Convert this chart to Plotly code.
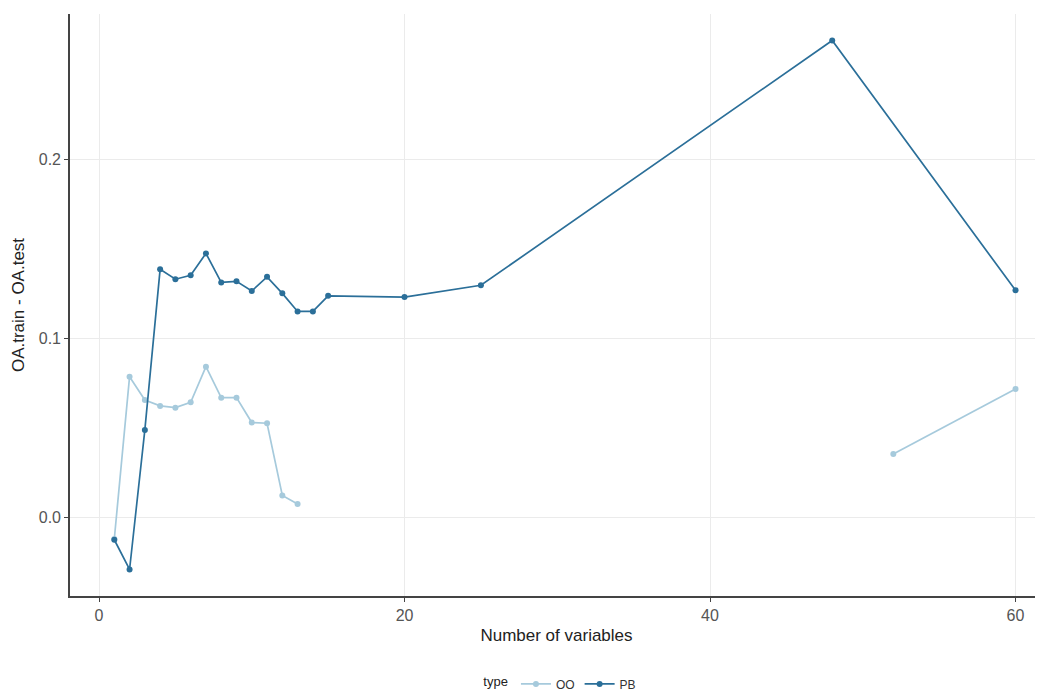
import plotly.graph_objects as go

# Data
pb_x = [1, 2, 3, 4, 5, 6, 7, 8, 9, 10, 11, 12, 13, 14, 15, 20, 25, 48, 60]
pb_y = [-0.0124, -0.029, 0.0489, 0.1385, 0.1330, 0.1352, 0.1474, 0.1312, 0.1318,
        0.1264, 0.1343, 0.1251, 0.1150, 0.1150, 0.1237, 0.1230, 0.1296, 0.2662, 0.1268]

oo_x = [1, 2, 3, 4, 5, 6, 7, 8, 9, 10, 11, 12, 13, None, 52, 60]
oo_y = [-0.0120, 0.0786, 0.0656, 0.0623, 0.0613, 0.0643, 0.0842, 0.0669, 0.0669,
        0.0530, 0.0526, 0.0123, 0.0075, None, 0.0355, 0.0717]

x_ticks = [0, 20, 40, 60]
y_ticks = [0.0, 0.1, 0.2]
y_tick_labels = ["0.0", "0.1", "0.2"]

OO_COLOR = "#a6cadc"
PB_COLOR = "#2b6f99"

fig = go.Figure()
fig.add_trace(go.Scatter(x=oo_x, y=oo_y, mode="lines+markers", name="OO",
                         line=dict(color=OO_COLOR, width=1.7),
                         marker=dict(color=OO_COLOR, size=6), connectgaps=False))
fig.add_trace(go.Scatter(x=pb_x, y=pb_y, mode="lines+markers", name="PB",
                         line=dict(color=PB_COLOR, width=1.7),
                         marker=dict(color=PB_COLOR, size=6)))

fig.update_layout(
    width=1035, height=693,
    margin=dict(l=62, r=0, t=6, b=105, autoexpand=False),
    paper_bgcolor="white", plot_bgcolor="white",
    font=dict(family="Liberation Sans, Arial, sans-serif", color="#222"),
    showlegend=True,
    legend=dict(orientation="h", x=0.505, xanchor="center", y=-0.151, yanchor="middle",
                title=dict(text="type", font=dict(size=13, color="#222")),
                font=dict(size=12, color="#333"), itemwidth=30),
)
fig.update_xaxes(range=[-1.9, 61.8], tickvals=x_ticks, ticktext=[str(v) for v in x_ticks],
                 showgrid=True, gridcolor="#ebebeb", gridwidth=1, zeroline=False,
                 showline=True, linecolor="#444", linewidth=1.6,
                 ticks="outside", ticklen=4, tickcolor="#444",
                 tickfont=dict(size=16, color="#555"),
                 title=dict(text="Number of variables", font=dict(size=17, color="#222"), standoff=6))
fig.update_yaxes(range=[-0.0438, 0.2810], tickvals=y_ticks, ticktext=y_tick_labels,
                 showgrid=True, gridcolor="#ebebeb", gridwidth=1, zeroline=False,
                 showline=True, linecolor="#444", linewidth=1.6,
                 ticks="outside", ticklen=4, tickcolor="#444",
                 tickfont=dict(size=16, color="#555"),
                 title=dict(text="OA.train - OA.test", font=dict(size=17, color="#222"), standoff=10))

fig.write_html("out.html")
